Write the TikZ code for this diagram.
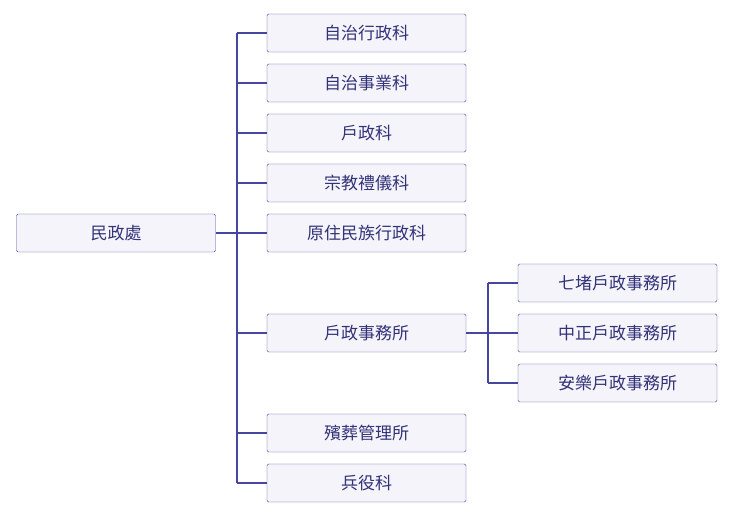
\documentclass[tikz,border=0pt]{standalone}
\usepackage{fontspec}
\newfontfamily\cjk{Noto Sans CJK TC}
\definecolor{orgline}{RGB}{70,70,160}
\definecolor{orgfill}{RGB}{245,244,250}
\definecolor{orgtext}{RGB}{50,50,120}
\usetikzlibrary{positioning}

\begin{document}
\begin{tikzpicture}[x=1pt, y=-1pt,
  unit/.style={rectangle, draw=orgline, fill=orgfill, rounded corners=1.5pt, minimum width=199pt, minimum height=38pt, inner sep=0pt, font=\cjk\fontsize{17}{20}\selectfont, text=orgtext},
  link/.style={orgline, line width=1.4pt}
]
  \useasboundingbox (0,0) rectangle (737,518);
  \node[unit] (root) at (116,233) {民政處};
  \node[unit] (a1) at (366.5,33) {自治行政科};
  \node[unit] (a2) at (366.5,83) {自治事業科};
  \node[unit] (a3) at (366.5,133) {戶政科};
  \node[unit] (a4) at (366.5,183) {宗教禮儀科};
  \node[unit] (a5) at (366.5,233) {原住民族行政科};
  \node[unit] (a6) at (366.5,333) {戶政事務所};
  \node[unit] (a7) at (366.5,433) {殯葬管理所};
  \node[unit] (a8) at (366.5,483) {兵役科};
  \node[unit] (b1) at (617.5,283) {七堵戶政事務所};
  \node[unit] (b2) at (617.5,333) {中正戶政事務所};
  \node[unit] (b3) at (617.5,383) {安樂戶政事務所};

  \coordinate (trunk) at (237,233);
  \coordinate (trunk2) at (488,333);
  \draw[link] (root.east) -- (trunk);
  \foreach \n in {a1,a2,a3,a4,a5,a6,a7,a8}
    \draw[link] (\n.west) -- (trunk |- \n.west);
  \draw[link] (trunk |- a1.west) -- (trunk |- a8.west);
  \draw[link] (a6.east) -- (trunk2);
  \foreach \n in {b1,b2,b3}
    \draw[link] (\n.west) -- (trunk2 |- \n.west);
  \draw[link] (trunk2 |- b1.west) -- (trunk2 |- b3.west);
\end{tikzpicture}
\end{document}
